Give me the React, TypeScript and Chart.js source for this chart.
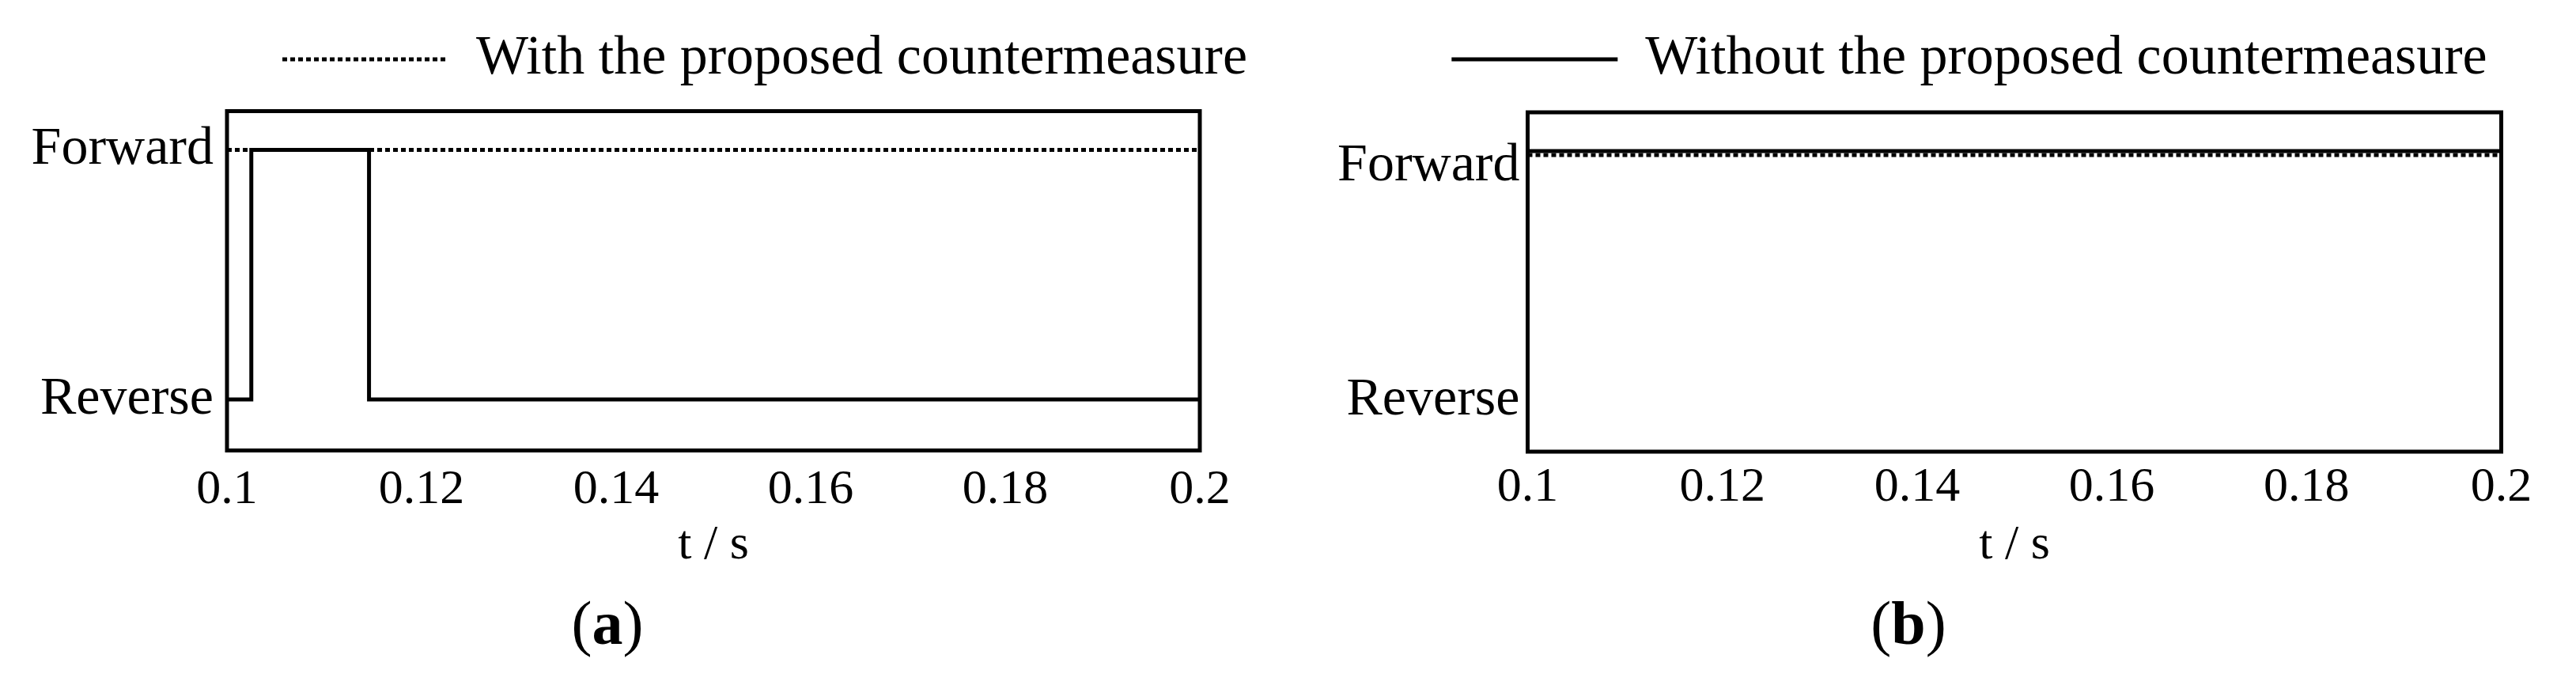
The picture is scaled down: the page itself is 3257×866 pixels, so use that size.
import React, { useEffect, useRef } from 'react';
import { Chart, registerables } from 'chart.js';

Chart.register(...registerables);

const FONT = "'Liberation Serif', 'Times New Roman', serif";

// ---- data ----
const legendLabels = ['With the proposed countermeasure', 'Without the proposed countermeasure'];
const xTickValues = [0.1, 0.12, 0.14, 0.16, 0.18, 0.2];
const xTickLabels = ['0.1', '0.12', '0.14', '0.16', '0.18', '0.2'];
const yTickValues = [0, 1];
const yTickLabels = ['Reverse', 'Forward'];
const xTitle = 't / s';
const captions = ['a', 'b'];

// panel (a)
const tWithA = [0.1, 0.2];
const withA = [1, 1];
const tWithoutA = [0.1, 0.1025, 0.1146, 0.2];
const withoutA = [0, 1, 0, 0];

// panel (b)
const tWithB = [0.1, 0.2];
const withB = [0.984, 0.984];
const tWithoutB = [0.1, 0.2];
const withoutB = [1, 1];

const xMin = 0.1;
const xMax = 0.2;
const yMin = -0.204;
const yMax = 1.155;

Chart.defaults.color = '#000';
Chart.defaults.font.family = FONT;

const framePlugin = {
  id: 'frame',
  afterDatasetsDraw(chart: any) {
    const { ctx, chartArea: a } = chart;
    ctx.save();
    ctx.strokeStyle = '#000';
    ctx.lineWidth = 5;
    ctx.setLineDash([]);
    ctx.strokeRect(a.left, a.top, a.right - a.left, a.bottom - a.top);
    ctx.restore();
  },
};

function captionPlugin(letter: string, dx: number, y: number) {
  return {
    id: 'caption',
    afterDraw(chart: any) {
      const { ctx, chartArea: a } = chart;
      const size = 78;
      const normal = `${size}px ${FONT}`;
      const bold = `bold ${size}px ${FONT}`;
      ctx.save();
      ctx.font = normal;
      const wp = ctx.measureText('(').width;
      const wq = ctx.measureText(')').width;
      ctx.font = bold;
      const wl = ctx.measureText(letter).width;
      let x = (a.left + a.right) / 2 + dx - (wp + wl + wq) / 2;
      ctx.fillStyle = '#000';
      ctx.textBaseline = 'middle';
      ctx.textAlign = 'left';
      ctx.font = normal;
      ctx.fillText('(', x, y);
      x += wp;
      ctx.font = bold;
      ctx.fillText(letter, x, y);
      x += wl;
      ctx.font = normal;
      ctx.fillText(')', x, y);
      ctx.restore();
    },
  };
}

type Panel = {
  canvasLeft: number;
  canvasW: number;
  yAxisW: number;
  y2W: number;
  topAxisH: number;
  xAxisH: number;
  yTickPad: number;
  xTickPad: number;
  shiftForward: boolean;
  caption: string;
  tWith: number[];
  vWith: number[];
  tWithout: number[];
  vWithout: number[];
  legendIndex: number;
};

const panelA: Panel = {
  canvasLeft: 0, canvasW: 1934, yAxisW: 287, y2W: 417, topAxisH: 20.5, xAxisH: 296.5,
  yTickPad: 17, xTickPad: 13, shiftForward: false, caption: captions[0],
  tWith: tWithA, vWith: withA, tWithout: tWithoutA, vWithout: withoutA, legendIndex: 0,
};

const panelB: Panel = {
  canvasLeft: 1660, canvasW: 1660, yAxisW: 271.5, y2W: 157.5, topAxisH: 22, xAxisH: 295,
  yTickPad: 10, xTickPad: 9, shiftForward: true, caption: captions[1],
  tWith: tWithB, vWith: withB, tWithout: tWithoutB, vWithout: withoutB, legendIndex: 1,
};

const pts = (t: number[], v: number[]) => t.map((x, i) => ({ x, y: v[i] }));

function makeConfig(p: Panel): any {
  const datasets = [
    {
      label: legendLabels[0],
      data: pts(p.tWith, p.vWith),
      borderColor: '#000',
      backgroundColor: '#000',
      borderWidth: 5,
      borderDash: [6, 4],
      pointRadius: 0,
      fill: false,
      tension: 0,
      xAxisID: 'x',
      yAxisID: 'y',
    },
    {
      label: legendLabels[1],
      data: pts(p.tWithout, p.vWithout),
      borderColor: '#000',
      backgroundColor: '#000',
      borderWidth: 5,
      pointRadius: 0,
      fill: false,
      stepped: 'before',
      xAxisID: 'x',
      yAxisID: 'y',
    },
  ];
  return {
    type: 'line',
    data: { datasets },
    options: {
      responsive: false,
      animation: false,
      events: [],
      layout: { padding: { left: 0, right: 0, top: 30, bottom: 0 } },
      plugins: {
        tooltip: { enabled: false },
        legend: {
          display: true,
          position: 'top',
          align: 'center',
          labels: {
            usePointStyle: true,
            pointStyle: 'line',
            pointStyleWidth: 210,
            padding: 10,
            color: '#000',
            font: { family: FONT, size: 70 },
            generateLabels: (chart: any) =>
              chart.data.datasets
                .map((ds: any, i: number) => ({
                  text: ds.label,
                  fillStyle: '#000',
                  strokeStyle: '#000',
                  fontColor: '#000',
                  lineWidth: 5,
                  lineDash: ds.borderDash || [],
                  lineCap: 'butt',
                  pointStyle: 'line',
                  hidden: false,
                  datasetIndex: i,
                }))
                .filter((it: any) => it.datasetIndex === p.legendIndex),
          },
        },
      },
      scales: {
        x: {
          type: 'linear',
          position: 'bottom',
          min: xMin,
          max: xMax,
          afterBuildTicks: (s: any) => {
            s.ticks = xTickValues.map((v) => ({ value: v }));
          },
          ticks: {
            padding: p.xTickPad,
            autoSkip: false,
            maxRotation: 0,
            color: '#000',
            font: { family: FONT, size: 62 },
            callback: (_v: any, i: number) => xTickLabels[i],
          },
          grid: { display: false, drawTicks: false, tickLength: 0 },
          border: { display: false },
          title: {
            display: true,
            text: xTitle,
            color: '#000',
            font: { family: FONT, size: 62 },
            padding: { top: 0, bottom: 139 },
          },
          afterFit: (s: any) => {
            s.height = p.xAxisH;
          },
        },
        x2: {
          type: 'linear',
          position: 'top',
          display: true,
          ticks: { display: false },
          grid: { display: false, drawTicks: false, tickLength: 0 },
          border: { display: false },
          afterFit: (s: any) => {
            s.height = p.topAxisH;
          },
        },
        y: {
          type: 'linear',
          position: 'left',
          min: yMin,
          max: yMax,
          afterBuildTicks: (s: any) => {
            s.ticks = yTickValues.map((v) => ({ value: v }));
          },
          ticks: {
            padding: p.yTickPad,
            autoSkip: false,
            color: '#000',
            font: p.shiftForward
              ? { family: FONT, size: 68, lineHeight: '38px' }
              : { family: FONT, size: 68 },
            callback: (_v: any, i: number) =>
              p.shiftForward && yTickValues[i] === 1 ? ['', yTickLabels[i]] : yTickLabels[i],
          },
          grid: { display: false, drawTicks: false, tickLength: 0 },
          border: { display: false },
          afterFit: (s: any) => {
            s.width = p.yAxisW;
          },
        },
        y2: {
          type: 'linear',
          position: 'right',
          display: true,
          ticks: { display: false },
          grid: { display: false, drawTicks: false, tickLength: 0 },
          border: { display: false },
          afterFit: (s: any) => {
            s.width = p.y2W;
          },
        },
      },
    },
    plugins: [framePlugin, captionPlugin(p.caption, -134, 794)],
  };
}

export default function App() {
  const refA = useRef<HTMLCanvasElement>(null);
  const refB = useRef<HTMLCanvasElement>(null);

  useEffect(() => {
    const a = new Chart(refA.current as HTMLCanvasElement, makeConfig(panelA));
    const b = new Chart(refB.current as HTMLCanvasElement, makeConfig(panelB));
    return () => {
      a.destroy();
      b.destroy();
    };
  }, []);

  return (
    <div
      style={{
        position: 'absolute',
        left: 0,
        top: 0,
        width: 3257,
        height: 866,
        overflow: 'hidden',
        background: '#fff',
      }}
    >
      <canvas
        ref={refA}
        width={panelA.canvasW}
        height={866}
        style={{ position: 'absolute', left: panelA.canvasLeft, top: 0 }}
      />
      <canvas
        ref={refB}
        width={panelB.canvasW}
        height={866}
        style={{ position: 'absolute', left: panelB.canvasLeft, top: 0 }}
      />
    </div>
  );
}
